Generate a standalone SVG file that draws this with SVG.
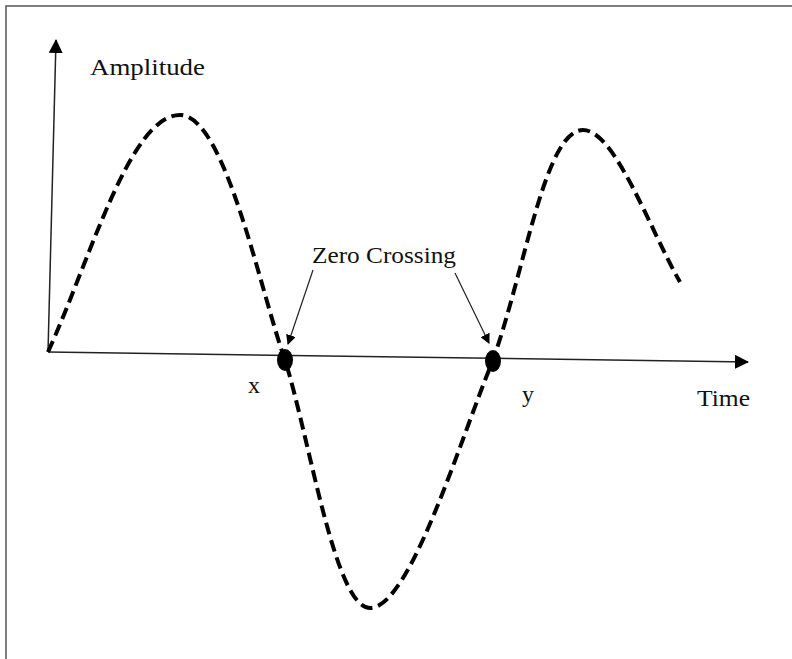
<svg xmlns="http://www.w3.org/2000/svg" width="792" height="659" viewBox="0 0 792 659">
<style>
.lbl{font-family:"Liberation Serif","Times New Roman",serif;font-size:24px;fill:#111}
.axis{stroke:#222;stroke-width:1.5;fill:none}
.ptr{stroke:#222;stroke-width:1.2;fill:none}
.wave{stroke:#000;stroke-width:4;stroke-dasharray:12 6;fill:none}
</style>
<defs>
<marker id="ah" markerWidth="10" markerHeight="10" refX="9" refY="5" orient="auto" markerUnits="userSpaceOnUse" viewBox="0 0 10 10">
<path d="M0,0 L10,5 L0,10 z" fill="#000"/>
</marker>
<marker id="ah2" markerWidth="14" markerHeight="14" refX="13" refY="7" orient="auto" markerUnits="userSpaceOnUse" viewBox="0 0 14 14">
<path d="M0,0 L14,7 L0,14 z" fill="#000"/>
</marker>
</defs>
<rect width="792" height="659" fill="#fff"/>
<path d="M6,659 V6 H792" stroke="#555" stroke-width="1.5" fill="none"/>
<g id="axes">
<line class="axis" x1="48" y1="352" x2="56" y2="40" marker-end="url(#ah2)"/>
<line class="axis" x1="48" y1="352" x2="748" y2="362" marker-end="url(#ah2)"/>
</g>
<g id="wave">
<path class="wave" d="M48,352 C90,260 130,115 180,115 C225,115 260,290 285,360 C310,440 335,608 370,608 C410,608 460,440 493,360 C525,270 545,130 583,130 C615,130 650,230 680,282"/>
</g>
<g id="crossing-x">
<ellipse cx="285" cy="360" rx="8" ry="11" fill="#000"/>
</g>
<g id="crossing-y">
<ellipse cx="493" cy="361" rx="8" ry="11" fill="#000"/>
</g>
<g id="connectors">
<line class="ptr" x1="313" y1="270" x2="288" y2="344" marker-end="url(#ah)"/>
<line class="ptr" x1="455" y1="273" x2="489" y2="343" marker-end="url(#ah)"/>
</g>
<g id="labels">
<text class="lbl" x="90" y="75" textLength="115" lengthAdjust="spacingAndGlyphs">Amplitude</text>
<text class="lbl" x="312" y="263" textLength="144" lengthAdjust="spacingAndGlyphs">Zero Crossing</text>
<text class="lbl" x="248" y="393">x</text>
<text class="lbl" x="522" y="402">y</text>
<text class="lbl" x="697" y="406" textLength="53" lengthAdjust="spacingAndGlyphs">Time</text>
</g>
</svg>
